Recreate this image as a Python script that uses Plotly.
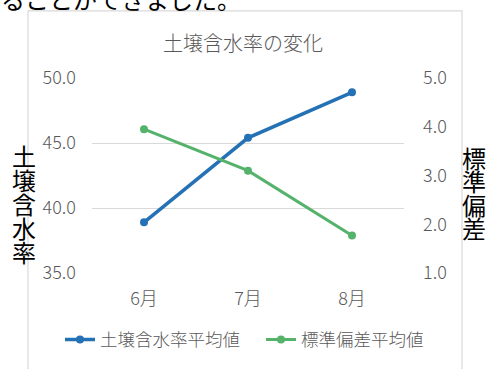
import plotly.graph_objects as go

# Monthly averages
months = ["6月", "7月", "8月"]
moisture_avg = [38.9, 45.4, 48.9]      # 土壌含水率平均値 (left axis)
stdev_avg = [3.95, 3.1, 1.77]          # 標準偏差平均値 (right axis)

left_ticks = [35.0, 40.0, 45.0, 50.0]
right_ticks = [1.0, 2.0, 3.0, 4.0, 5.0]

W, H = 486, 369
L, R, T, B = 92, 404, 78, 277          # plot area in pixels
PW, PH = R - L, B - T

def px(x):
    return (x - L) / PW

def py(y):
    return (B - y) / PH

FONT = "Noto Sans CJK JP"
GRAY = "#595959"
BLUE = "#2471b5"
GREEN = "#55b26b"
TICKFONT = dict(size=18, color=GRAY, weight=300)

fig = go.Figure()
fig.add_trace(go.Scatter(
    x=months, y=moisture_avg, name="土壌含水率平均値",
    mode="lines+markers", line=dict(color=BLUE, width=3.5),
    marker=dict(size=8, color=BLUE), yaxis="y",
))
fig.add_trace(go.Scatter(
    x=months, y=stdev_avg, name="標準偏差平均値",
    mode="lines+markers", line=dict(color=GREEN, width=3),
    marker=dict(size=8, color=GREEN), yaxis="y2",
))

fig.update_layout(
    width=W, height=H,
    margin=dict(l=L, r=W - R, t=T, b=H - B),
    paper_bgcolor="white", plot_bgcolor="white",
    font=dict(family=FONT, color=GRAY, size=17),
    showlegend=True,
    legend=dict(
        orientation="h", x=px(60), xanchor="left", y=py(345), yanchor="middle",
        font=dict(size=17.5, color=GRAY, weight=300), bgcolor="rgba(0,0,0,0)",
        itemwidth=30, entrywidth=156, entrywidthmode="pixels",
    ),
    xaxis=dict(
        type="category", range=[-0.5, 2.5], showgrid=False, zeroline=False,
        showline=False, ticks="", ticklabelstandoff=13, tickfont=TICKFONT,
    ),
    yaxis=dict(
        range=[35, 50], tickvals=left_ticks, tickformat=".1f",
        showgrid=True, gridcolor="#d9d9d9", gridwidth=1.2, zeroline=False,
        showline=False, ticks="", ticklabelstandoff=15, tickfont=TICKFONT,
    ),
    yaxis2=dict(
        range=[1, 5], tickvals=right_ticks, tickformat=".1f",
        overlaying="y", side="right", showgrid=False, zeroline=False,
        showline=False, ticks="", ticklabelstandoff=18, tickfont=TICKFONT,
    ),
)

# Chart frame
fig.add_shape(
    type="rect", xref="paper", yref="paper",
    x0=px(28), x1=px(462), y0=py(380), y1=py(9.5),
    line=dict(color="#d9d9d9", width=1.2), fillcolor="rgba(0,0,0,0)", layer="below",
)

annotations = [
    dict(text="ることができました。", x=px(-1), y=py(-3.5), xanchor="left", yanchor="middle",
         font=dict(size=24, color="black")),
    dict(text="土壌含水率の変化", x=px(243), y=py(42), xanchor="center", yanchor="middle",
         font=dict(size=20, color=GRAY, weight=300)),
]

# Vertical axis titles, one character per line
left_title = "土壌含水率"
for i, ch in enumerate(left_title):
    annotations.append(dict(text=ch, x=px(24), y=py(157 + 24.5 * i),
                            xanchor="center", yanchor="middle",
                            font=dict(size=24, color="black")))
right_title = "標準偏差"
for i, ch in enumerate(right_title):
    annotations.append(dict(text=ch, x=px(474), y=py(159 + 24 * i),
                            xanchor="center", yanchor="middle",
                            font=dict(size=24, color="black")))

for a in annotations:
    a.update(xref="paper", yref="paper", showarrow=False)
fig.update_layout(annotations=annotations)

fig.write_html("out.html")
